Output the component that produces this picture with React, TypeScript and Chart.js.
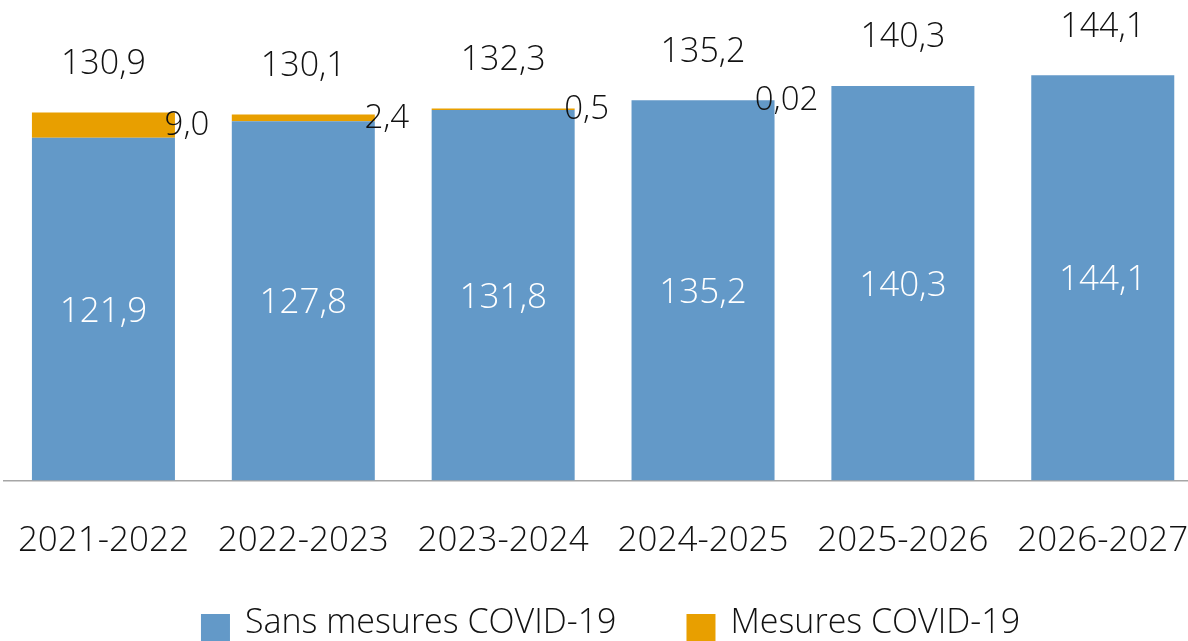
import React, { useEffect, useRef } from "react";
import { Chart, registerables } from "chart.js";

Chart.register(...registerables);

const categories = ["2021-2022", "2022-2023", "2023-2024", "2024-2025", "2025-2026", "2026-2027"];
const sansMesures = [121.9, 127.8, 131.8, 135.2, 140.3, 144.1];
const mesures = [9.0, 2.4, 0.5, 0.02, 0, 0];
const totals = [130.9, 130.1, 132.3, 135.2, 140.3, 144.1];
const sansLabels = ["121,9", "127,8", "131,8", "135,2", "140,3", "144,1"];
const mesuresLabels = ["9,0", "2,4", "0,5", "0,02", "", ""];
const totalLabels = ["130,9", "130,1", "132,3", "135,2", "140,3", "144,1"];
const seriesNames = ["Sans mesures COVID-19", "Mesures COVID-19"];

const BLUE = "#6399C8";
const ORANGE = "#E89F00";
const FONT = "'Open Sans'";
const W = 300;

const labelsPlugin = {
  id: "customLabels",
  afterDatasetsDraw(chart: any) {
    const ctx = chart.ctx;
    const m0 = chart.getDatasetMeta(0);
    const m1 = chart.getDatasetMeta(1);
    ctx.save();
    ctx.textAlign = "center";
    ctx.textBaseline = "alphabetic";

    // values inside blue bars
    ctx.font = `${W} 35px ${FONT}`;
    ctx.fillStyle = "#ffffff";
    m0.data.forEach((bar: any, i: number) => {
      const p = bar.getProps(["x", "y", "base"], true);
      ctx.fillText(sansLabels[i], p.x, (p.y + p.base) / 2 + 0.357 * 35);
    });

    // values of COVID measures, next to the bars
    ctx.font = `${W} 33px ${FONT}`;
    ctx.fillStyle = "#111111";
    m1.data.forEach((bar: any, i: number) => {
      const txt = mesuresLabels[i];
      if (!txt) return;
      const p = bar.getProps(["x", "y", "base", "width"], true);
      ctx.fillText(txt, p.x + p.width / 2 + 12, (p.y + p.base) / 2 + 0.357 * 33 - 2);
    });

    // totals above the stacks
    ctx.font = `${W} 34px ${FONT}`;
    m1.data.forEach((bar: any, i: number) => {
      const p = bar.getProps(["x", "y"], true);
      ctx.fillText(totalLabels[i], p.x, p.y - 38.7);
    });
    ctx.restore();
  },
  afterDraw(chart: any) {
    const ctx = chart.ctx;
    const ds = chart.data.datasets;
    ctx.save();
    ctx.font = `${W} 34px ${FONT}`;
    ctx.textBaseline = "alphabetic";
    ctx.textAlign = "left";
    const box = 29;
    const gapBox = 15;
    const gapItem = 70;
    const widths = ds.map((d: any) => ctx.measureText(d.label).width);
    let total = 0;
    widths.forEach((w: number, i: number) => {
      total += box + gapBox + w + (i < widths.length - 1 ? gapItem : 0);
    });
    let x = 610.5 - total / 2;
    ds.forEach((d: any, i: number) => {
      ctx.fillStyle = d.backgroundColor;
      ctx.fillRect(x, 614, box, box);
      ctx.fillStyle = "#111111";
      ctx.fillText(d.label, x + box + gapBox, 633);
      x += box + gapBox + widths[i] + gapItem;
    });
    ctx.restore();
  },
};

export default function App() {
  const canvasRef = useRef<HTMLCanvasElement | null>(null);

  useEffect(() => {
    let chart: Chart | null = null;
    let cancelled = false;
    const make = () => {
      if (cancelled || !canvasRef.current) return;
      chart = new Chart(canvasRef.current, {
        type: "bar",
        data: {
          labels: categories,
          datasets: [
            {
              label: seriesNames[0],
              data: sansMesures,
              backgroundColor: BLUE,
              borderWidth: 0,
              categoryPercentage: 1,
              barPercentage: 0.7155,
            },
            {
              label: seriesNames[1],
              data: mesures,
              backgroundColor: ORANGE,
              borderWidth: 0,
              categoryPercentage: 1,
              barPercentage: 0.7155,
            },
          ],
        },
        options: {
          responsive: false,
          animation: false,
          devicePixelRatio: 1,
          layout: { padding: { top: 30.6, left: 3.5, right: 3.3, bottom: 0 } },
          plugins: {
            legend: { display: false },
            tooltip: { enabled: false },
            title: { display: false },
          },
          scales: {
            x: {
              stacked: true,
              grid: { display: false },
              border: { display: true, color: "#A6A6A6", width: 1.5 },
              ticks: {
                color: "#111111",
                font: { family: FONT, size: 35, weight: W as any },
                padding: 32,
                maxRotation: 0,
                autoSkip: false,
              },
              afterFit: (scale: any) => {
                scale.height = 160.5;
                scale.paddingLeft = 0;
                scale.paddingRight = 0;
              },
            },
            y: {
              stacked: true,
              display: false,
              min: 0,
              max: 160,
            },
          },
        },
        plugins: [labelsPlugin],
      });
    };
    const fontsApi: any = (document as any).fonts;
    if (fontsApi && fontsApi.load) {
      Promise.all([
        fontsApi.load(`${W} 33px ${FONT}`),
        fontsApi.load(`${W} 35px ${FONT}`),
      ])
        .catch(() => undefined)
        .then(make);
    } else {
      make();
    }
    return () => {
      cancelled = true;
      if (chart) chart.destroy();
    };
  }, []);

  return (
    <div
      style={{
        position: "fixed",
        left: 0,
        top: 0,
        width: 1188,
        height: 641,
        overflow: "hidden",
        background: "#ffffff",
      }}
    >
      <canvas
        ref={canvasRef}
        width={1206}
        height={641}
        style={{ display: "block", width: 1206, height: 641 }}
      />
    </div>
  );
}
